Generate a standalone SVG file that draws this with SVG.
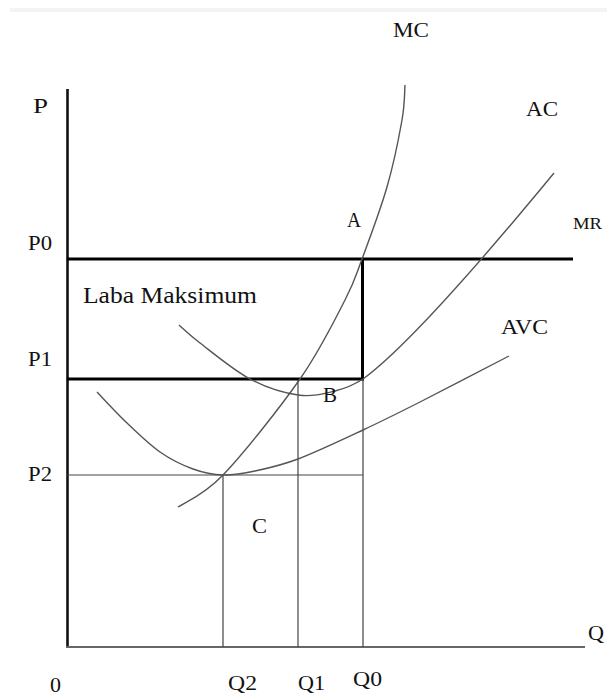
<svg xmlns="http://www.w3.org/2000/svg" width="607" height="696" viewBox="0 0 607 696">
<style>
text{font-family:"Liberation Serif","Times New Roman",serif;fill:#111}
.thick{stroke:#000;stroke-width:3;fill:none}
.thin{stroke:#444;stroke-width:1.2;fill:none}
.curve{stroke:#555;stroke-width:1.4;fill:none}
</style>
<rect x="0" y="0" width="607" height="696" fill="#fff"/>
<rect x="10" y="8" width="597" height="4" fill="#f3f3f3"/>
<g id="connectors">
<g id="axes">
<line x1="67.5" y1="89" x2="67.5" y2="648" stroke="#111" stroke-width="2.6"/>
<line x1="66" y1="647" x2="585" y2="647" stroke="#666" stroke-width="2"/>
</g>
<g id="guides">
<line class="thin" x1="67" y1="475" x2="363" y2="475"/>
<line class="thin" x1="223" y1="475" x2="223" y2="647"/>
<line class="thin" x1="298" y1="379" x2="298" y2="647"/>
<line class="thin" x1="363" y1="379" x2="363" y2="647"/>
</g>
<g id="profit-box">
<line class="thick" x1="67" y1="259" x2="573" y2="259"/>
<line class="thick" x1="67" y1="379" x2="364" y2="379"/>
<line class="thick" x1="362.5" y1="259" x2="362.5" y2="380"/>
</g>
<g id="curves">
<path id="mc" class="curve" d="M178,507 C185.5,501.7 202.7,496.3 223,475 C243.3,453.7 279.7,408.2 300,379 C320.3,349.8 334.7,320 345,300 C355.3,280 355,277.8 362,259 C369,240.2 380.3,210.2 387,187 C393.7,163.8 399,137 402,120 C405,103 404.5,90.8 405,85"/>
<path id="ac" class="curve" d="M179,325 C182.5,328 188.2,334 200,343 C211.8,352 233.7,370.3 250,379 C266.3,387.7 283.8,393 298,395 C312.2,397 324.2,393.7 335,391 C345.8,388.3 352.2,386 363,379 C400,352 470,275 554,173"/>
<path id="avc" class="curve" d="M97,392 C102,397.2 116.5,413 127,423 C137.5,433 149,444.3 160,452 C171,459.7 182.5,465.2 193,469 C203.5,472.8 212.7,474.7 223,475 C233.3,475.3 242.5,473.7 255,471 C267.5,468.3 280,465.8 298,459 C316,452.2 342.7,439.5 363,430 C383.3,420.5 395.7,414.3 420,402 C444.3,389.7 494.2,363.7 509,356"/>
</g>
</g>
<g id="labels">
<text x="393" y="37" font-size="20" textLength="36" lengthAdjust="spacingAndGlyphs">MC</text>
<text x="33" y="113" font-size="22" textLength="15" lengthAdjust="spacingAndGlyphs">P</text>
<text x="526" y="116" font-size="20" textLength="32" lengthAdjust="spacingAndGlyphs">AC</text>
<text x="347" y="227" font-size="20" textLength="14" lengthAdjust="spacingAndGlyphs">A</text>
<text x="573" y="229" font-size="16" textLength="29" lengthAdjust="spacingAndGlyphs">MR</text>
<text x="28" y="250" font-size="20" textLength="24" lengthAdjust="spacingAndGlyphs">P0</text>
<text x="83" y="303" font-size="23" textLength="174" lengthAdjust="spacingAndGlyphs">Laba Maksimum</text>
<text x="501" y="334" font-size="21" textLength="47" lengthAdjust="spacingAndGlyphs">AVC</text>
<text x="28" y="366" font-size="20" textLength="24" lengthAdjust="spacingAndGlyphs">P1</text>
<text x="323" y="402" font-size="20" textLength="14" lengthAdjust="spacingAndGlyphs">B</text>
<text x="28" y="481" font-size="20" textLength="24" lengthAdjust="spacingAndGlyphs">P2</text>
<text x="252" y="533" font-size="20" textLength="15" lengthAdjust="spacingAndGlyphs">C</text>
<text x="588" y="640" font-size="20" textLength="16" lengthAdjust="spacingAndGlyphs">Q</text>
<text x="50" y="692" font-size="20" textLength="11" lengthAdjust="spacingAndGlyphs">0</text>
<text x="228" y="690" font-size="20" textLength="29" lengthAdjust="spacingAndGlyphs">Q2</text>
<text x="298" y="690" font-size="20" textLength="27" lengthAdjust="spacingAndGlyphs">Q1</text>
<text x="353" y="686" font-size="20" textLength="29" lengthAdjust="spacingAndGlyphs">Q0</text>
</g>
</svg>
